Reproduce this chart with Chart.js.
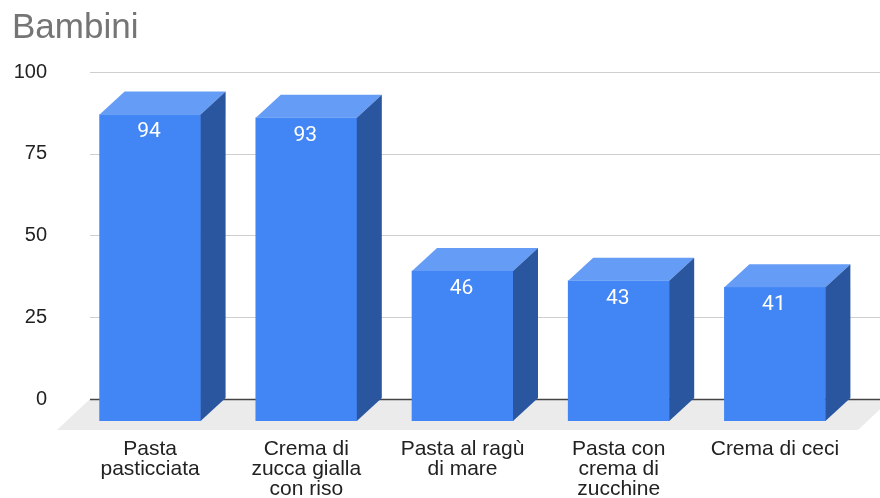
<!DOCTYPE html>
<html lang="it">
  <head>
    <meta charset="UTF-8" />
    <title>Bambini</title>
    <script src="https://cdn.jsdelivr.net/npm/chart.js"></script>
    <style>
      html, body { margin: 0; padding: 0; background: #fff; }
      #wrap { width: 880px; height: 498px; }
    </style>
  </head>
  <body>
    <div id="wrap"><canvas id="myChart"></canvas></div>

    <script>
      const titleText = 'Bambini';
      const categories = [
        ['Pasta', 'pasticciata'],
        ['Crema di', 'zucca gialla', 'con riso'],
        ['Pasta al ragù', 'di mare'],
        ['Pasta con', 'crema di', 'zucchine'],
        ['Crema di ceci']
      ];
      const values = [94, 93, 46, 43, 41];
      const yTicks = [0, 25, 50, 75, 100];

      // depth of the fake 3D box, in px
      const depthX = 25;
      const depthY = 23;

      function poly(ctx, pts, color) {
        ctx.beginPath();
        pts.forEach((p, i) => (i ? ctx.lineTo(p[0], p[1]) : ctx.moveTo(p[0], p[1])));
        ctx.closePath();
        ctx.fillStyle = color;
        ctx.fill();
      }

      // floor and grid sit on the back plane, behind the bars
      const backPlane = {
        id: 'backPlane',
        beforeDatasetsDraw(chart) {
          const { ctx, chartArea } = chart;
          const yScale = chart.scales.y;
          const zero = yScale.getPixelForValue(0);
          ctx.save();
          poly(ctx, [
            [chartArea.left - 15, chartArea.bottom + 9],
            [chartArea.right + 5, chartArea.bottom + 9],
            [chartArea.right + 38, zero],
            [chartArea.left + 18, zero]
          ], '#ebebeb');
          yTicks.forEach(t => {
            const y = Math.round(yScale.getPixelForValue(t)) + 0.5;
            ctx.beginPath();
            ctx.moveTo(chartArea.left + 18, y);
            ctx.lineTo(880, y);
            ctx.lineWidth = t === 0 ? 1.5 : 1;
            ctx.strokeStyle = t === 0 ? '#444444' : '#cfcfcf';
            ctx.stroke();
          });
          ctx.restore();
        }
      };

      const boxFaces = {
        id: 'boxFaces',
        afterDatasetsDraw(chart) {
          const { ctx } = chart;
          const bars = chart.getDatasetMeta(0).data;
          ctx.save();
          bars.forEach((bar, i) => {
            const l = bar.x - bar.width / 2;
            const r = bar.x + bar.width / 2;
            poly(ctx, [[l, bar.y], [l + depthX, bar.y - depthY], [r + depthX, bar.y - depthY], [r, bar.y]], '#659cf6');
            poly(ctx, [[r, bar.y], [r + depthX, bar.y - depthY], [r + depthX, bar.base - depthY], [r, bar.base]], '#2a56a0');
            ctx.fillStyle = '#ffffff';
            ctx.font = '21px Roboto';
            ctx.textAlign = 'center';
            ctx.textBaseline = 'middle';
            ctx.fillText(values[i], bar.x - 1, bar.y + 17.5);
          });
          ctx.restore();
        }
      };

      new Chart(document.getElementById('myChart'), {
        type: 'bar',
        data: {
          labels: categories,
          datasets: [{
            data: values,
            yAxisID: 'yFront',
            backgroundColor: '#4285f4',
            barThickness: 101
          }]
        },
        plugins: [backPlane, boxFaces],
        options: {
          responsive: true,
          maintainAspectRatio: false,
          animation: false,
          layout: { padding: { left: 12, right: 27, top: 0, bottom: 0 } },
          plugins: {
            legend: { display: false },
            tooltip: { enabled: false },
            title: {
              display: true,
              text: titleText,
              align: 'start',
              color: '#757575',
              font: { family: 'Liberation Sans', size: 35, weight: 'normal' },
              padding: { top: 7, bottom: 23 }
            }
          },
          scales: {
            x: {
              grid: { display: false },
              border: { display: false },
              afterFit: s => { s.height = 77; },
              ticks: {
                color: '#222222',
                maxRotation: 0,
                autoSkip: false,
                padding: 10,
                font: { family: 'Liberation Sans', size: 21, lineHeight: 0.95 }
              }
            },
            // visible axis: back plane of the box, 0 is 22px above the front base
            y: {
              position: 'left',
              min: -6.73,
              max: 100,
              grid: { display: false },
              border: { display: false },
              afterBuildTicks: s => { s.ticks = yTicks.map(v => ({ value: v })); },
              afterFit: s => { s.width = 60; },
              ticks: {
                color: '#222222',
                padding: 17,
                font: { family: 'Liberation Sans', size: 20 }
              }
            },
            // hidden axis for the front face of the bars
            yFront: {
              display: false,
              min: 0,
              max: 107.05
            }
          }
        }
      });
    </script>
  </body>
</html>
